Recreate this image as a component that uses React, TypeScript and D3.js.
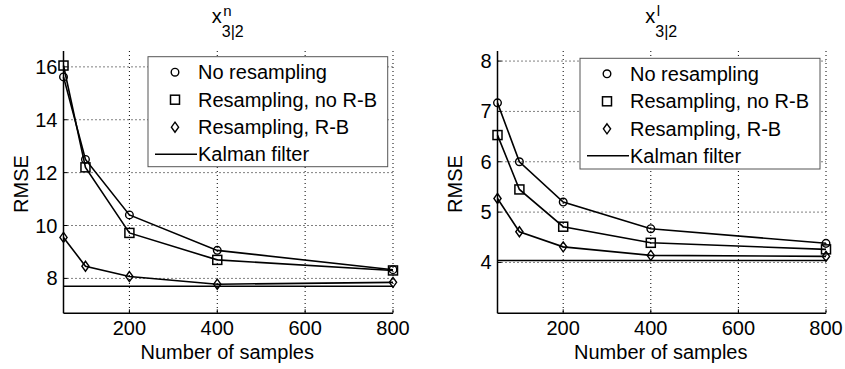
import React from "react";
import * as d3 from "d3";

const samples = [50, 100, 200, 400, 800];
const xTicks = [200, 400, 600, 800];
const seriesLabels = ["No resampling", "Resampling, no R-B", "Resampling, R-B", "Kalman filter"];

const leftNoResampling = [15.62, 12.5, 10.4, 9.06, 8.33];
const leftResNoRB = [16.05, 12.2, 9.72, 8.7, 8.3];
const leftResRB = [9.55, 8.46, 8.07, 7.78, 7.85];
const leftKalman = 7.7;
const leftYTicks = [8, 10, 12, 14, 16];

const rightNoResampling = [7.17, 6.0, 5.2, 4.67, 4.38];
const rightResNoRB = [6.53, 5.45, 4.71, 4.39, 4.26];
const rightResRB = [5.27, 4.61, 4.31, 4.14, 4.12];
const rightKalman = 4.04;
const rightYTicks = [4, 5, 6, 7, 8];

const FONT = "'Liberation Sans', Arial, Helvetica, sans-serif";

type PanelProps = {
  x0: number;
  x1: number;
  yDomain: [number, number];
  yTicks: number[];
  series: number[][];
  kalman: number;
  sup: string;
  legend: { x: number; y: number; w: number; h: number };
};

function Marker({ kind, cx, cy }: { kind: number; cx: number; cy: number }) {
  if (kind === 0) return <circle cx={cx} cy={cy} r={3.8} fill="none" stroke="#000" strokeWidth={1.4} />;
  if (kind === 1)
    return <rect x={cx - 4.5} y={cy - 4.5} width={9} height={9} fill="none" stroke="#000" strokeWidth={1.5} />;
  return (
    <path
      d={`M${cx},${cy - 5}L${cx + 3.6},${cy}L${cx},${cy + 5}L${cx - 3.6},${cy}Z`}
      fill="none"
      stroke="#000"
      strokeWidth={1.4}
    />
  );
}

function Panel({ x0, x1, yDomain, yTicks, series, kalman, sup, legend }: PanelProps) {
  const top = 51;
  const bottom = 313.3;
  const x = d3.scaleLinear().domain([50, 800]).range([x0, x1]);
  const y = d3.scaleLinear().domain(yDomain).range([bottom, top]);
  const line = d3
    .line<number>()
    .x((_, i) => x(samples[i]))
    .y((d) => y(d));
  const cx = (x0 + x1) / 2;
  const rows = [legend.y + 15.5, legend.y + 43, legend.y + 70.5, legend.y + 97.5];
  return (
    <g fontFamily={FONT} fill="#000">
      {/* grid */}
      {xTicks.map((t) => (
        <line key={"gx" + t} x1={x(t)} x2={x(t)} y1={top} y2={bottom} stroke="#000" strokeWidth={1} strokeDasharray="1,3" />
      ))}
      {yTicks.map((t) => (
        <line key={"gy" + t} x1={x0} x2={x1} y1={y(t)} y2={y(t)} stroke="#000" strokeWidth={1} strokeDasharray="1,3" />
      ))}
      {/* ticks */}
      {xTicks.map((t) => (
        <line key={"tx" + t} x1={x(t)} x2={x(t)} y1={bottom} y2={bottom - 4} stroke="#000" strokeWidth={1} />
      ))}
      {yTicks.map((t) => (
        <line key={"ty" + t} x1={x0} x2={x0 + 4} y1={y(t)} y2={y(t)} stroke="#000" strokeWidth={1} />
      ))}
      {/* axes */}
      <line x1={x0} x2={x0} y1={top} y2={bottom} stroke="#000" strokeWidth={1.5} />
      <line x1={x0} x2={x1} y1={bottom} y2={bottom} stroke="#000" strokeWidth={1.5} />
      {/* tick labels */}
      {xTicks.map((t) => (
        <text key={"lx" + t} x={x(t)} y={335} fontSize={20} textAnchor="middle">
          {t}
        </text>
      ))}
      {yTicks.map((t) => (
        <text key={"ly" + t} x={x0 - 6} y={y(t) + 7} fontSize={20} textAnchor="end">
          {t}
        </text>
      ))}
      {/* kalman */}
      <line x1={x0} x2={x1} y1={y(kalman)} y2={y(kalman)} stroke="#000" strokeWidth={1.5} />
      {/* series */}
      {series.map((s, k) => (
        <g key={"s" + k}>
          <path d={line(s) || ""} fill="none" stroke="#000" strokeWidth={1.6} />
          {s.map((v, i) => (
            <Marker key={i} kind={k} cx={x(samples[i])} cy={y(v)} />
          ))}
        </g>
      ))}
      {/* axis labels */}
      <text x={cx - 1} y={359} fontSize={20} textAnchor="middle">
        Number of samples
      </text>
      <text
        transform={`translate(${x0 - 36},184) rotate(-90)`}
        fontSize={20}
        textAnchor="middle"
      >
        RMSE
      </text>
      {/* title */}
      <text x={cx - 16.5} y={23} fontSize={20}>x</text>
      <text x={cx - 5} y={16} fontSize={15}>{sup}</text>
      <text x={cx - 6.5} y={37} fontSize={16}>3|2</text>
      {/* legend */}
      <rect x={legend.x} y={legend.y} width={legend.w} height={legend.h} fill="#fff" stroke="#555" strokeWidth={1} />
      {seriesLabels.map((lab, k) => (
        <g key={"lg" + k}>
          {k < 3 ? (
            <Marker kind={k} cx={legend.x + 27} cy={rows[k]} />
          ) : (
            <line x1={legend.x + 7} x2={legend.x + 49} y1={rows[k]} y2={rows[k]} stroke="#000" strokeWidth={1.5} />
          )}
          <text x={legend.x + 50} y={rows[k] + 7} fontSize={20}>
            {lab}
          </text>
        </g>
      ))}
    </g>
  );
}

export default function App() {
  return (
    <svg
      width={845}
      height={369}
      viewBox="0 0 845 369"
      style={{ position: "absolute", left: 0, top: 0, background: "#fff" }}
    >
      <rect x={0} y={0} width={845} height={369} fill="#fff" />
      <Panel
        x0={63.5}
        x1={393}
        yDomain={[6.68, 16.6]}
        yTicks={leftYTicks}
        series={[leftNoResampling, leftResNoRB, leftResRB]}
        kalman={leftKalman}
        sup="n"
        legend={{ x: 148, y: 56.7, w: 239.7, h: 110 }}
      />
      <Panel
        x0={497.5}
        x1={826}
        yDomain={[2.99, 8.2]}
        yTicks={rightYTicks}
        series={[rightNoResampling, rightResNoRB, rightResRB]}
        kalman={rightKalman}
        sup="l"
        legend={{ x: 580, y: 58.3, w: 240, h: 110.7 }}
      />
    </svg>
  );
}
